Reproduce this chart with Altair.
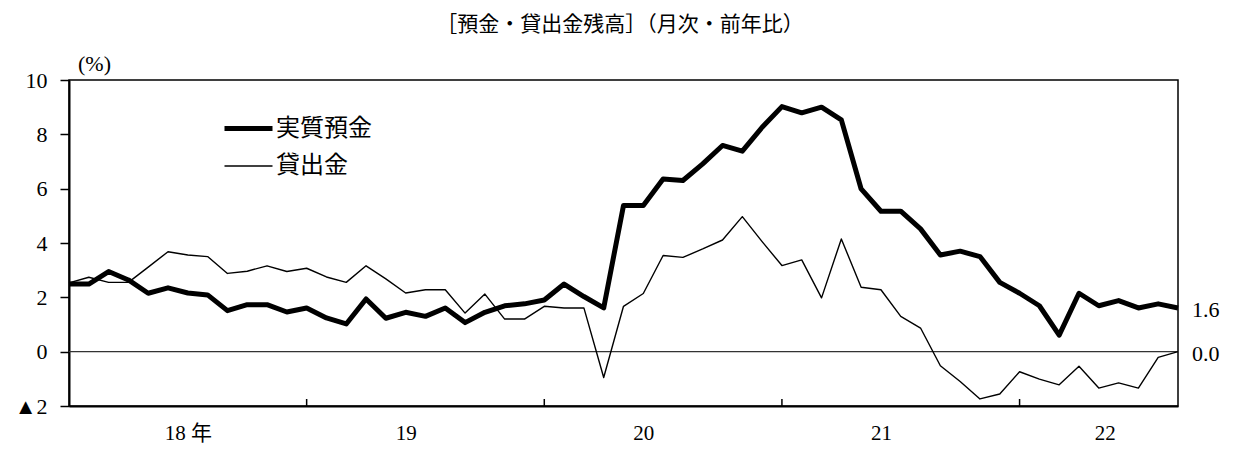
import json
import altair as alt
import pandas as pd

# Monthly index: 0 = Jan 2018 ... 56 = Sep 2022
months = list(range(57))
series_names = ["実質預金", "貸出金"]
deposits = [2.49, 2.49, 2.95, 2.64, 2.15, 2.35, 2.16, 2.09, 1.51, 1.73,
            1.73, 1.46, 1.61, 1.24, 1.02, 1.94, 1.23, 1.45, 1.30, 1.61,
            1.07, 1.45, 1.69, 1.76, 1.90, 2.49, 2.03, 1.61, 5.38, 5.38,
            6.36, 6.30, 6.91, 7.59, 7.38, 8.26, 9.02, 8.79, 9.00, 8.53,
            5.99, 5.17, 5.17, 4.52, 3.56, 3.70, 3.50, 2.55, 2.15, 1.69,
            0.61, 2.15, 1.69, 1.88, 1.61, 1.76, 1.61]
loans = [2.53, 2.74, 2.55, 2.55, 3.11, 3.68, 3.56, 3.50, 2.88, 2.96,
         3.16, 2.95, 3.07, 2.75, 2.55, 3.16, 2.68, 2.16, 2.28, 2.28,
         1.42, 2.12, 1.20, 1.20, 1.67, 1.61, 1.61, -0.95, 1.67, 2.14,
         3.54, 3.47, 3.78, 4.11, 4.97, 4.05, 3.17, 3.38, 1.98, 4.15,
         2.37, 2.28, 1.30, 0.87, -0.52, -1.10, -1.74, -1.56, -0.74, -1.01,
         -1.22, -0.54, -1.34, -1.15, -1.34, -0.21, 0.0]

year_label_pos = [6, 17, 29, 41, 52.3]
year_labels = ["18 年", "19", "20", "21", "22"]
year_ticks = [12, 24, 36, 48]
y_ticks = [-2, 0, 2, 4, 6, 8, 10]
title_text = "［預金・貸出金残高］（月次・前年比）"

JP = "Noto Sans CJK JP"
NUM = "Liberation Serif, Noto Sans CJK JP"

W, H = 1109, 326

df = pd.DataFrame({
    "m": months * 2,
    "v": deposits + loans,
    "s": [series_names[0]] * len(months) + [series_names[1]] * len(months),
})
df_end = pd.DataFrame({"m": [months[-1]] * 2, "v": [deposits[-1], loans[-1]]})
df_zero = pd.DataFrame({"z": [0]})
df_ticks = pd.DataFrame({"t": year_ticks})
df_title = pd.DataFrame({"t": [title_text]})

label_map = json.dumps(dict(zip([str(p) for p in year_label_pos], year_labels)), ensure_ascii=False)
x_label_expr = f"{label_map}[''+datum.value]"

x_enc = alt.X(
    "m:Q",
    scale=alt.Scale(domain=[0, 56], nice=False, zero=False),
    axis=alt.Axis(values=year_label_pos, labelExpr=x_label_expr, ticks=False,
                  domainWidth=2, domainColor="black", labelFont=NUM, labelFontSize=21,
                  labelColor="black", labelPadding=16, grid=False, title=None,
                  labelBaseline="top", labelFlush=False, labelOverlap=False),
)
y_enc = alt.Y(
    "v:Q",
    scale=alt.Scale(domain=[-2, 10], nice=False, zero=False),
    axis=alt.Axis(values=y_ticks,
                  labelExpr="datum.value < 0 ? '▲' + (-datum.value) : '' + datum.value",
                  tickSize=9, tickWidth=1.5, tickColor="black", labelPadding=13,
                  domainWidth=2, domainColor="black", labelFont=NUM, labelFontSize=22,
                  labelColor="black", grid=False, title="(%)", titleAngle=0,
                  titleX=25, titleY=-17, titleAlign="center", titleBaseline="middle",
                  titleFont=NUM, titleFontSize=22, titleFontWeight="normal",
                  titleColor="black"),
)

lines = alt.Chart(df).mark_line(color="black", strokeJoin="round").encode(
    x=x_enc,
    y=y_enc,
    strokeWidth=alt.StrokeWidth(
        "s:N",
        scale=alt.Scale(domain=series_names, range=[5, 1.4]),
        legend=alt.Legend(title=None, orient="none", legendX=153, legendY=22,
                          symbolType="stroke", symbolSize=2304, symbolStrokeColor="black",
                          labelFont=JP, labelFontSize=24, labelColor="black",
                          rowPadding=0, labelOffset=1, padding=0),
    ),
)

zero = alt.Chart(df_zero).mark_rule(color="#333333", strokeWidth=1.2).encode(y="z:Q")

ticks = alt.Chart(df_ticks).mark_rule(color="black", strokeWidth=1.5).encode(
    x="t:Q", y=alt.value(H), y2=alt.value(H - 7)
)

end_labels = alt.Chart(df_end).mark_text(
    align="left", baseline="middle", dx=14, dy=2, font=NUM, fontSize=22, color="black"
).encode(x="m:Q", y="v:Q", text=alt.Text("v:Q", format=".1f"))

title = alt.Chart(df_title).mark_text(
    align="center", baseline="top", font=JP, fontSize=21, color="black"
).encode(x=alt.value(551), y=alt.value(-66), text="t:N")

chart = alt.layer(zero, ticks, lines, end_labels, title).properties(
    width=W,
    height=H,
    autosize="none",
    background="white",
    padding={"left": 61, "top": 72, "right": 56, "bottom": 40},
).configure_view(stroke="black", strokeWidth=1.5)

chart.save("out.html", embed_options={"renderer": "svg", "actions": False})
